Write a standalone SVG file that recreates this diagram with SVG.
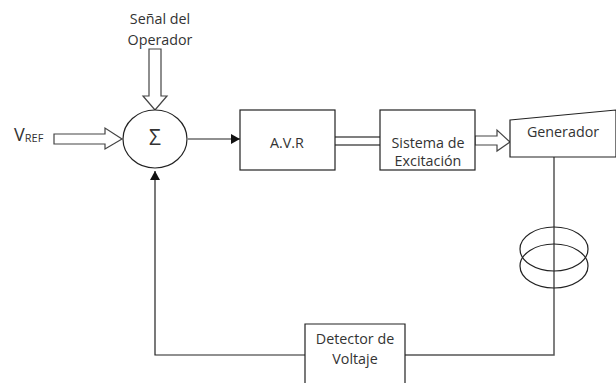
<svg xmlns="http://www.w3.org/2000/svg" width="616" height="383" viewBox="0 0 616 383">
<style>
text{font-family:"Open Sans","Noto Sans","Liberation Sans",sans-serif;font-size:14.300px;fill:#333;text-anchor:middle}
.b{fill:#fff;stroke:#222;stroke-width:1.2}
.c{fill:none;stroke:#555;stroke-width:1.5}
.k{fill:none;stroke:#222;stroke-width:1.2}
.o{fill:#fff;stroke:#444;stroke-width:1.2}
</style>
<defs><marker id="a" markerUnits="userSpaceOnUse" markerWidth="9" markerHeight="10" refX="9" refY="5" orient="auto"><path d="M0 0L9 5L0 10Z" fill="#111"/></marker></defs>
<rect width="616" height="383" fill="#fff"/>
<g id="connectors">
<path class="o" d="M149 49H161V96H167L155 110L143 96H149Z"/>
<path class="o" d="M54 134H105V128L122 139L105 149V144H54Z"/>
<path class="k" d="M188 139H240" marker-end="url(#a)"/>
<path class="c" d="M335 137H380M335 145H380"/>
<path class="o" d="M475 136H497V130L510 142L497 151V145H475Z"/>
<path class="c" d="M554 157V355H405"/>
<path class="k" d="M305 355H155V171" marker-end="url(#a)"/>
</g>
<g id="sum"><ellipse class="b" cx="155" cy="139" rx="32" ry="29"/><text x="155" y="145" style="font-size:21px">Σ</text></g>
<g id="vref"><text x="14" y="141" style="text-anchor:start;font-size:18px">V<tspan style="font-size:11px" dy="1">REF</tspan></text></g>
<g id="operador"><text x="160" y="24">Señal del</text><text x="160" y="45">Operador</text></g>
<g id="avr"><rect class="b" x="240" y="110" width="95" height="60"/><text x="287" y="148">A.V.R</text></g>
<g id="excitacion"><rect class="b" x="380" y="110" width="95" height="60"/><text x="428" y="148">Sistema de</text><text x="428" y="166">Excitación</text></g>
<g id="generador"><path class="b" d="M510 120L616 110V157H510Z"/><text x="563" y="137">Generador</text></g>
<g id="transformador"><ellipse class="k" cx="554" cy="249" rx="34" ry="22"/><ellipse class="k" cx="554" cy="266" rx="34" ry="22"/></g>
<g id="detector"><path class="b" d="M305 383V324H405V383"/><text x="355" y="344">Detector de</text><text x="355" y="364">Voltaje</text></g>
</svg>
